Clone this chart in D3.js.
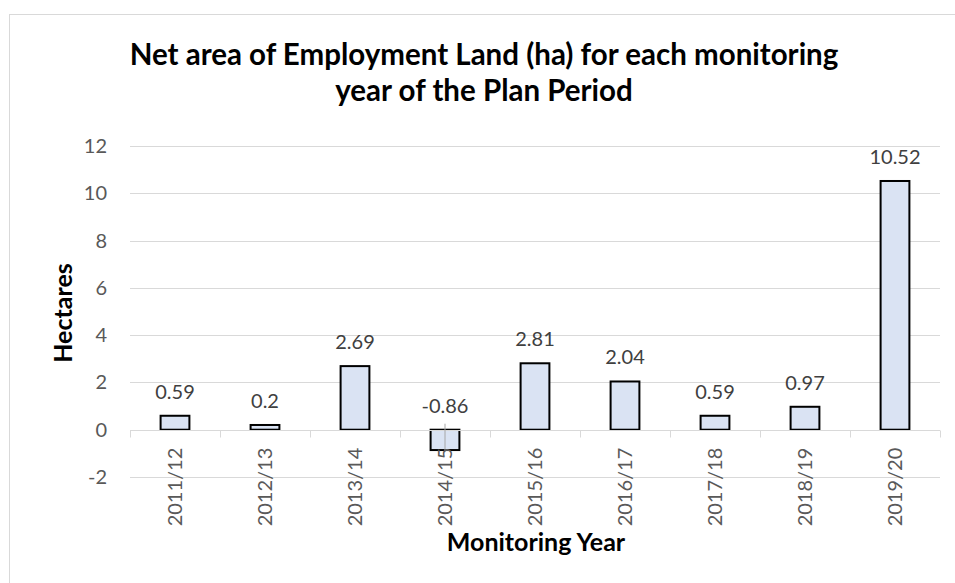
<!DOCTYPE html>
<html>
<head>
<meta charset="utf-8">
<script src="https://cdn.jsdelivr.net/npm/d3@7"></script>
<style>
  body { margin: 0; background: #fff; }
  svg { display: block; font-family: Lato, "Open Sans", sans-serif; }
</style>
</head>
<body>
<svg id="chart" width="955" height="583"></svg>
<script>
// chart data
const years = ['2011/12', '2012/13', '2013/14', '2014/15', '2015/16', '2016/17', '2017/18', '2018/19', '2019/20'];
const hectares = [0.59, 0.2, 2.69, -0.86, 2.81, 2.04, 0.59, 0.97, 10.52];
const yTicks = [-2, 0, 2, 4, 6, 8, 10, 12];
const titleLines = ['Net area of Employment Land (ha) for each monitoring', 'year of the Plan Period'];

const svg = d3.select('#chart');
const margin = { left: 130, right: 15, top: 146, bottom: 106 };
const width = 955, height = 583;

// outer chart border
svg.append('rect')
  .attr('x', 9.5).attr('y', 14.5)
  .attr('width', 970).attr('height', 600)
  .attr('fill', 'none')
  .attr('stroke', '#d9d9d9')
  .attr('stroke-width', 1);

const x = d3.scaleBand()
  .domain(years)
  .range([margin.left, width - margin.right])
  .paddingInner(0.68)
  .paddingOuter(0.34);

const y = d3.scaleLinear()
  .domain([-2, 12])
  .range([height - margin.bottom, margin.top]);

// gridlines
svg.append('g')
  .selectAll('line')
  .data(yTicks.filter(t => t !== 0))
  .join('line')
  .attr('x1', margin.left).attr('x2', width - margin.right)
  .attr('y1', d => Math.round(y(d)) + 0.5).attr('y2', d => Math.round(y(d)) + 0.5)
  .attr('stroke', '#d9d9d9')
  .attr('stroke-width', 1);

// y tick labels
svg.append('g')
  .selectAll('text')
  .data(yTicks)
  .join('text')
  .attr('x', 107)
  .attr('y', d => y(d))
  .attr('dy', '0.35em')
  .attr('text-anchor', 'end')
  .attr('fill', '#595959')
  .style('font-size', '20px')
  .text(d => d);

// bars
const bars = svg.append('g');
bars.selectAll('rect')
  .data(hectares)
  .join('rect')
  .attr('x', (d, i) => x(years[i]))
  .attr('y', d => y(Math.max(d, 0)))
  .attr('width', x.bandwidth())
  .attr('height', d => Math.abs(y(d) - y(0)))
  .attr('fill', '#dae3f3')
  .attr('stroke', '#000')
  .attr('stroke-width', 2);

// category axis line and ticks
const zeroY = Math.round(y(0)) + 0.5;
svg.append('line')
  .attr('x1', margin.left).attr('x2', width - margin.right)
  .attr('y1', zeroY).attr('y2', zeroY)
  .attr('stroke', '#d9d9d9');

const step = x.step();
svg.append('g')
  .selectAll('line')
  .data(d3.range(years.length + 1))
  .join('line')
  .attr('x1', i => Math.round(margin.left + i * step) + 0.5)
  .attr('x2', i => Math.round(margin.left + i * step) + 0.5)
  .attr('y1', zeroY).attr('y2', zeroY + 7)
  .attr('stroke', '#d9d9d9');

// leader line for the negative value label
hectares.forEach((d, i) => {
  if (d < 0) {
    const cx = x(years[i]) + x.bandwidth() / 2;
    svg.append('line')
      .attr('x1', cx).attr('x2', cx)
      .attr('y1', y(0) - 6).attr('y2', y(d) + 2)
      .attr('stroke', '#a6a6a6')
      .attr('stroke-width', 1);
  }
});

// value labels
svg.append('g')
  .selectAll('text')
  .data(hectares)
  .join('text')
  .attr('x', (d, i) => x(years[i]) + x.bandwidth() / 2)
  .attr('y', d => y(Math.max(d, 0)) - 17)
  .attr('text-anchor', 'middle')
  .attr('fill', '#404040')
  .style('font-size', '20px')
  .text(d => d);

// category labels (rotated)
svg.append('g')
  .selectAll('text')
  .data(years)
  .join('text')
  .attr('transform', d => `translate(${x(d) + x.bandwidth() / 2 + 7},${y(0) + 18}) rotate(-90)`)
  .attr('text-anchor', 'end')
  .attr('fill', '#595959')
  .style('font-size', '20px')
  .text(d => d);

// axis titles
svg.append('text')
  .attr('x', 536)
  .attr('y', 551)
  .attr('text-anchor', 'middle')
  .attr('font-weight', 'bold')
  .attr('fill', '#000')
  .style('font-size', '25px')
  .text('Monitoring Year');

svg.append('text')
  .attr('transform', 'translate(72,313) rotate(-90)')
  .attr('text-anchor', 'middle')
  .attr('font-weight', 'bold')
  .attr('fill', '#000')
  .style('font-size', '25px')
  .text('Hectares');

// chart title
svg.append('g')
  .selectAll('text')
  .data(titleLines)
  .join('text')
  .attr('x', 484)
  .attr('y', (d, i) => 65 + i * 36)
  .attr('text-anchor', 'middle')
  .attr('font-weight', 'bold')
  .attr('fill', '#000')
  .style('font-size', '29.5px')
  .text(d => d);
</script>
</body>
</html>
